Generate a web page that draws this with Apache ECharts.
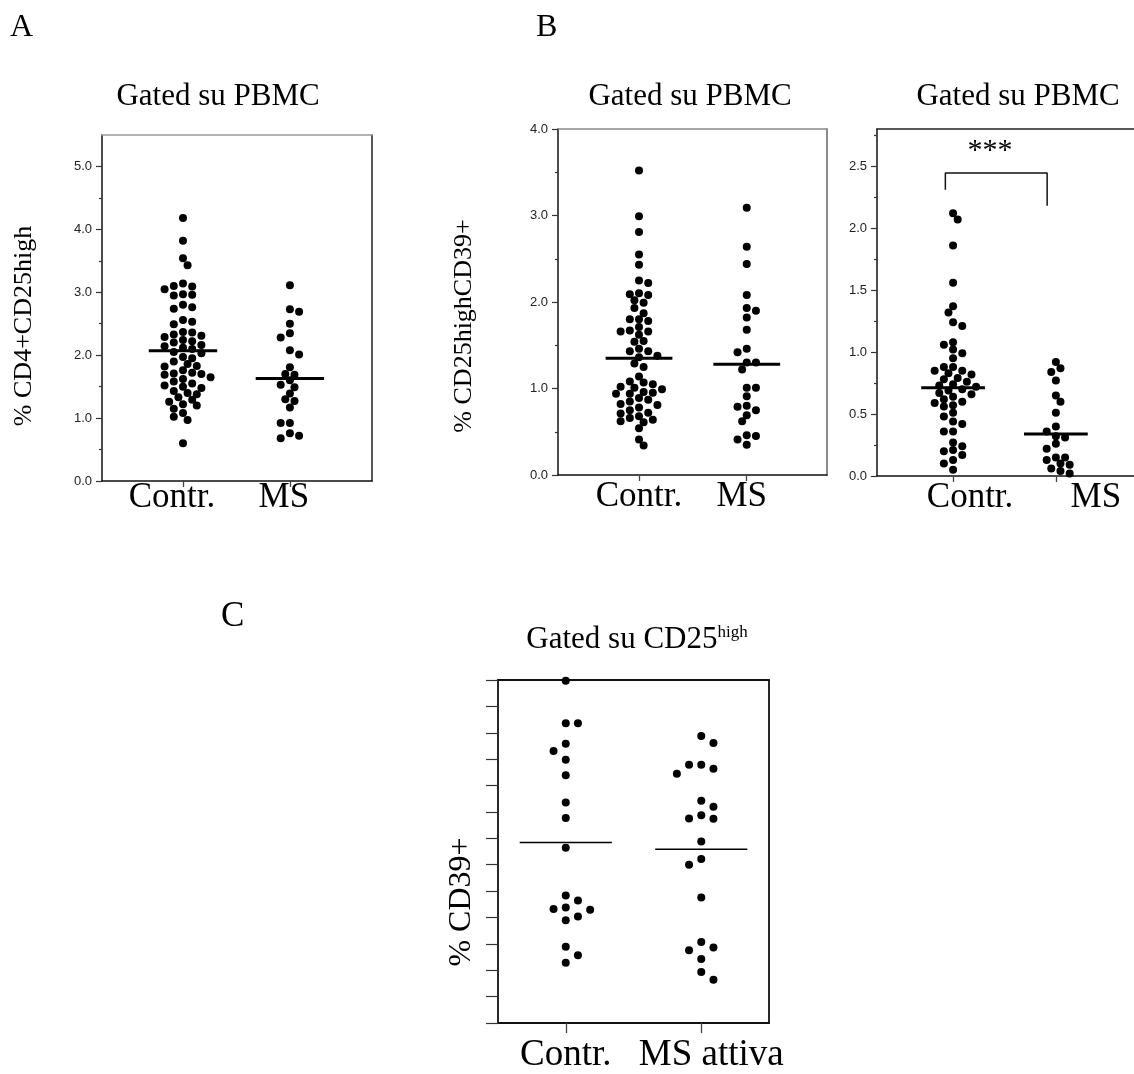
<!DOCTYPE html>
<html><head><meta charset="utf-8">
<script src="https://cdn.jsdelivr.net/npm/echarts@6/dist/echarts.min.js"></script>
<style>html,body{margin:0;padding:0;background:#fff}#c{width:1134px;height:1074px}</style>
</head><body><div id="c"></div>
<script>
// ---------- data ----------
const groupsAB = ['Contr.', 'MS'];
const groupsC = ['Contr.', 'MS attiva'];

const aContr = [4.18, 3.82, 3.54, 3.43, 3.14, 3.10, 3.09, 3.05, 2.97, 2.96, 2.95, 2.80, 2.76, 2.74, 2.56, 2.53, 2.49, 2.37, 2.36, 2.33, 2.31, 2.29, 2.24, 2.22, 2.20, 2.16, 2.14, 2.12, 2.10, 2.05, 2.03, 1.97, 1.95, 1.90, 1.86, 1.83, 1.82, 1.76, 1.72, 1.71, 1.70, 1.69, 1.65, 1.62, 1.58, 1.55, 1.52, 1.50, 1.48, 1.43, 1.40, 1.38, 1.33, 1.29, 1.26, 1.22, 1.20, 1.15, 1.08, 1.02, 0.97, 0.60];
const aMS = [3.11, 2.73, 2.69, 2.50, 2.35, 2.28, 2.08, 2.01, 1.81, 1.70, 1.69, 1.60, 1.53, 1.49, 1.39, 1.30, 1.27, 1.17, 0.92, 0.92, 0.76, 0.72, 0.68];
const aMean = [2.07, 1.63];

const b1Contr = [3.52, 2.99, 2.81, 2.55, 2.43, 2.25, 2.22, 2.10, 2.09, 2.08, 2.02, 1.99, 1.93, 1.87, 1.80, 1.80, 1.78, 1.71, 1.67, 1.66, 1.66, 1.62, 1.55, 1.54, 1.46, 1.43, 1.43, 1.38, 1.36, 1.29, 1.25, 1.14, 1.08, 1.07, 1.05, 1.02, 1.01, 0.99, 0.96, 0.95, 0.94, 0.94, 0.89, 0.87, 0.85, 0.82, 0.81, 0.78, 0.75, 0.72, 0.71, 0.68, 0.66, 0.64, 0.62, 0.61, 0.54, 0.41, 0.34];
const b1MS = [3.09, 2.64, 2.44, 2.08, 1.93, 1.90, 1.82, 1.68, 1.46, 1.42, 1.30, 1.30, 1.22, 1.01, 1.01, 0.91, 0.80, 0.79, 0.75, 0.69, 0.62, 0.46, 0.45, 0.41, 0.35];
const b1Mean = [1.35, 1.28];

const b2Contr = [2.12, 2.07, 1.86, 1.56, 1.37, 1.32, 1.24, 1.21, 1.08, 1.06, 1.02, 0.99, 0.95, 0.88, 0.88, 0.85, 0.85, 0.83, 0.82, 0.79, 0.78, 0.76, 0.74, 0.73, 0.72, 0.70, 0.69, 0.67, 0.66, 0.64, 0.62, 0.60, 0.59, 0.57, 0.56, 0.51, 0.48, 0.44, 0.42, 0.36, 0.36, 0.27, 0.24, 0.21, 0.20, 0.17, 0.13, 0.10, 0.05];
const b2MS = [0.92, 0.87, 0.84, 0.77, 0.65, 0.60, 0.51, 0.40, 0.36, 0.32, 0.31, 0.26, 0.22, 0.15, 0.15, 0.13, 0.10, 0.09, 0.06, 0.04, 0.02];
const b2Mean = [0.713, 0.338];
const b2Bracket = [2.31, 2.445, 2.18]; // left end, bar level, right end (axis values)

const cContr = [12.97, 11.36, 11.36, 10.58, 10.31, 9.98, 9.39, 8.36, 7.77, 6.64, 4.83, 4.64, 4.38, 4.32, 4.29, 4.04, 3.89, 2.89, 2.57, 2.28];
const cMS = [10.88, 10.61, 9.79, 9.79, 9.64, 9.45, 8.42, 8.20, 7.87, 7.75, 7.74, 6.88, 6.22, 6.00, 4.76, 3.07, 2.86, 2.76, 2.43, 1.93, 1.64];
const cMean = [6.84, 6.59];

const yTicksA = [0, 1, 2, 3, 4, 5];
const yMinorA = [0.5, 1.5, 2.5, 3.5, 4.5];
const yTicksB1 = [0, 1, 2, 3, 4];
const yMinorB1 = [0.5, 1.5, 2.5, 3.5];
const yTicksB2 = [0, 0.5, 1, 1.5, 2, 2.5];
const yMinorB2 = [0.25, 0.75, 1.25, 1.75, 2.25, 2.75];
const yTicksC = [0, 1, 2, 3, 4, 5, 6, 7, 8, 9, 10, 11, 12, 13];

// ---------- layout / style ----------
const SERIF = '"Liberation Serif", "Times New Roman", serif';
const SANS = '"Liberation Sans", Arial, sans-serif';

const panels = [
  { grid: {left: 102, top: 135, width: 270, height: 346}, xMin: 0.2425, xMax: 2.768, yMax: 5.5,
    cats: groupsAB, groups: [aContr, aMS], means: aMean, majors: yTicksA, minors: yMinorA, showLabels: true,
    shift: [-11, -6], catFont: 35, catMargin: -1, dot: 8, step: 4.6, D: 7, half: 0.32, meanW: 3,
    tickLen: 6, xTickLen: 6, topColor: '#999', rightColor: '#222', showRight: true, lineW: 1.5 },
  { grid: {left: 558, top: 129, width: 269, height: 346}, xMin: 0.248, xMax: 2.745, yMax: 4,
    cats: groupsAB, groups: [b1Contr, b1MS], means: b1Mean, majors: yTicksB1, minors: yMinorB1, showLabels: true,
    shift: [0, -5], catFont: 35, catMargin: 4, dot: 8, step: 4.6, D: 7, half: 0.31, meanW: 3,
    tickLen: 6, xTickLen: 6, topColor: '#888', rightColor: '#666', showRight: true, lineW: 1.5 },
  { grid: {left: 877, top: 129, width: 269, height: 347}, xMin: 0.26, xMax: 2.76, yMax: 2.8,
    cats: groupsAB, groups: [b2Contr, b2MS], means: b2Mean, majors: yTicksB2, minors: yMinorB2, showLabels: true,
    shift: [17, 40], catFont: 35, catMargin: 4, dot: 8, step: 4.6, D: 7, half: 0.31, meanW: 3,
    tickLen: 6, xTickLen: 6, topColor: '#222', rightColor: '#222', showRight: false, lineW: 1.5 },
  { grid: {left: 498, top: 680, width: 271, height: 348}, xMin: 0.5, xMax: 2.5, yMax: 13,
    cats: groupsC, groups: [cContr, cMS], means: cMean, majors: yTicksC, minors: [], showLabels: false,
    shift: [0, 10], catFont: 37, catMargin: 14, dot: 8, step: 12.2, D: 10, half: 0.34, meanW: 1.5,
    tickLen: 12, xTickLen: 10, topColor: '#111', rightColor: '#111', showRight: true, lineW: 1.8 }
];

const grids = [], xAxes = [], yAxes = [], series = [];
panels.forEach((p, i) => {
  grids.push(Object.assign({show: false, containLabel: false}, p.grid));
  const rich = {};
  p.cats.forEach((c, k) => {
    const s = p.shift[k];
    rich['l' + k] = {fontFamily: SERIF, fontSize: p.catFont, color: '#000',
      padding: s < 0 ? [0, -2 * s, 0, 0] : [0, 0, 0, 2 * s]};
  });
  p.xMain = xAxes.length;
  xAxes.push({gridIndex: i, type: 'value', min: p.xMin, max: p.xMax, position: 'bottom',
    axisLine: {show: true, onZero: false, lineStyle: {color: '#111', width: p.lineW}},
    axisTick: {show: true, customValues: [1, 2], length: p.xTickLen, lineStyle: {color: '#444', width: 1.3}},
    axisLabel: {show: true, customValues: [1, 2], margin: p.catMargin,
      formatter: v => { const k = Math.round(v) - 1; return '{l' + k + '|' + p.cats[k] + '}'; }, rich: rich},
    splitLine: {show: false}});
  xAxes.push({gridIndex: i, type: 'value', min: p.xMin, max: p.xMax, position: 'top',
    axisLine: {show: true, onZero: false, lineStyle: {color: p.topColor, width: p.lineW}},
    axisTick: {show: false}, axisLabel: {show: false}, splitLine: {show: false}});
  p.yMain = yAxes.length;
  yAxes.push({gridIndex: i, type: 'value', min: 0, max: p.yMax, position: 'left',
    axisLine: {show: true, onZero: false, lineStyle: {color: '#111', width: p.lineW}},
    axisTick: {show: true, customValues: p.majors, length: p.tickLen, lineStyle: {color: '#333', width: 1.2}},
    axisLabel: {show: p.showLabels, customValues: p.majors, formatter: v => v.toFixed(1),
      fontFamily: SANS, fontSize: 13, color: '#222', margin: 10},
    splitLine: {show: false}});
  if (p.minors.length) {
    yAxes.push({gridIndex: i, type: 'value', min: 0, max: p.yMax, position: 'left',
      axisLine: {show: false}, axisTick: {show: true, customValues: p.minors, length: 3, lineStyle: {color: '#333', width: 1.2}},
      axisLabel: {show: false}, splitLine: {show: false}});
  }
  yAxes.push({gridIndex: i, type: 'value', min: 0, max: p.yMax, position: 'right',
    axisLine: {show: p.showRight, onZero: false, lineStyle: {color: p.rightColor, width: p.lineW}},
    axisTick: {show: false}, axisLabel: {show: false}, splitLine: {show: false}});

  p.groups.forEach((vals, g) => {
    series.push({id: 's' + i + '_' + g, type: 'scatter', xAxisIndex: p.xMain, yAxisIndex: p.yMain,
      symbol: 'circle', symbolSize: p.dot, itemStyle: {color: '#000', opacity: 1}, z: 2,
      data: vals.map(v => [g + 1, v])});
    series.push({id: 'm' + i + '_' + g, type: 'line', xAxisIndex: p.xMain, yAxisIndex: p.yMain,
      symbol: 'none', lineStyle: {color: '#000', width: p.meanW}, z: 3,
      data: [[g + 1 - p.half, p.means[g]], [g + 1 + p.half, p.means[g]]]});
  });
});

// significance bracket on panel B (right)
series.push({id: 'bracket', type: 'line', xAxisIndex: panels[2].xMain, yAxisIndex: panels[2].yMain,
  symbol: 'none', lineStyle: {color: '#111', width: 1.5}, z: 3,
  data: [[1 - 0.075, b2Bracket[0]], [1 - 0.075, b2Bracket[1]], [2 - 0.085, b2Bracket[1]], [2 - 0.085, b2Bracket[2]]]});

function txt(text, x, y, size, opts) {
  return Object.assign({type: 'text', x: x, y: y, silent: true,
    style: {text: text, fontFamily: SERIF, fontSize: size, fill: '#000', align: 'center', verticalAlign: 'middle'}}, opts || {});
}
function ltxt(text, x, y, size) {
  return {type: 'text', x: x, y: y, silent: true,
    style: {text: text, fontFamily: SERIF, fontSize: size, fill: '#000', align: 'left', verticalAlign: 'middle'}};
}
const graphics = [
  ltxt('A', 10, 28, 32),
  ltxt('B', 536, 28, 32),
  ltxt('C', 221, 617, 35),
  txt('Gated su PBMC', 218, 97, 31),
  txt('Gated su PBMC', 690, 97, 31),
  txt('Gated su PBMC', 1018, 97, 31),
  {type: 'text', x: 637, y: 640, silent: true, style: {text: '{a|Gated su CD25}{b|high}', align: 'center', verticalAlign: 'middle',
    rich: {a: {fontFamily: SERIF, fontSize: 31, fill: '#000'}, b: {fontFamily: SERIF, fontSize: 17, fill: '#000', verticalAlign: 'top', padding: [0, 0, 12, 0]}}}},
  txt('% CD4+CD25high', 24, 326, 26, {rotation: Math.PI / 2}),
  txt('% CD25highCD39+', 464, 326, 26, {rotation: Math.PI / 2}),
  txt('% CD39+', 462, 902, 32, {rotation: Math.PI / 2}),
  txt('***', 990, 151, 30)
];

const chart = echarts.init(document.getElementById('c'), null, {renderer: 'canvas'});
chart.setOption({
  backgroundColor: '#fff', animation: false,
  grid: grids, xAxis: xAxes, yAxis: yAxes, series: series, graphic: graphics
});

// beeswarm placement computed from the rendered scales
function swarm(pys, step, D) {
  const idx = pys.map((y, i) => i).sort((a, b) => pys[a] - pys[b]);
  const placed = [], off = new Array(pys.length);
  let flip = 1;
  for (const i of idx) {
    for (let k = 0; k < 60; k++) {
      const cands = k === 0 ? [0] : [flip * k, -flip * k];
      let found = null;
      for (const c of cands) {
        const x = c * step;
        if (placed.every(q => Math.hypot(q.x - x, q.y - pys[i]) >= D)) { found = x; break; }
      }
      if (found !== null) { off[i] = found; placed.push({x: found, y: pys[i]}); if (found !== 0) flip = -flip; break; }
    }
  }
  return off;
}
const upd = [];
panels.forEach((p, i) => {
  p.groups.forEach((vals, g) => {
    const finder = {xAxisIndex: p.xMain, yAxisIndex: p.yMain};
    const pys = vals.map(v => chart.convertToPixel(finder, [g + 1, v])[1]);
    const ppu = chart.convertToPixel(finder, [g + 2, 0])[0] - chart.convertToPixel(finder, [g + 1, 0])[0];
    const offs = swarm(pys, p.step, p.D);
    upd.push({id: 's' + i + '_' + g, data: vals.map((v, j) => [g + 1 + offs[j] / ppu, v])});
  });
});
chart.setOption({series: upd});
</script></body></html>
